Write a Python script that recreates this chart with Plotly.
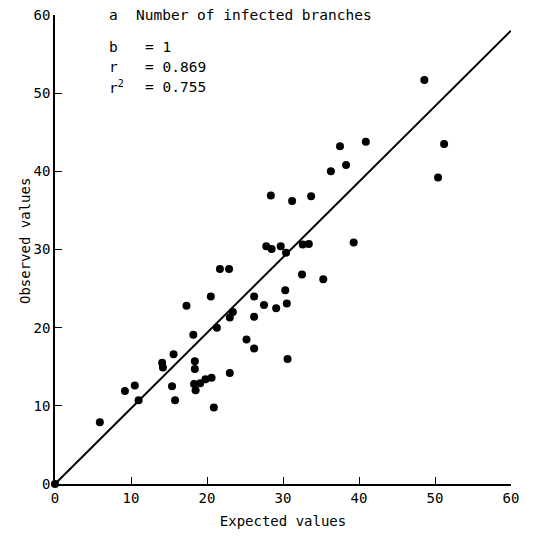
import plotly.graph_objects as go

expected = [0, 5.9, 9.2, 10.5, 11.0, 14.1, 14.2, 15.6, 15.4, 15.8,
            17.3, 18.2, 18.4, 18.4, 18.3, 18.5, 19.1, 19.8, 20.6, 20.9,
            20.5, 21.3, 21.7, 22.9, 23.0, 23.4, 23.0, 25.2, 26.2, 26.2,
            26.2, 27.5, 29.1, 27.8, 28.5, 29.7, 30.4, 32.6, 33.4, 28.4,
            31.2, 33.7, 30.3, 30.5, 30.6, 32.5, 35.3, 36.3, 38.3, 37.5,
            40.9, 39.3, 48.6, 51.2, 50.4]
observed = [0, 7.9, 11.9, 12.6, 10.7, 15.5, 14.9, 16.6, 12.5, 10.7,
            22.8, 19.1, 15.7, 14.7, 12.8, 12.0, 12.9, 13.4, 13.6, 9.8,
            24.0, 20.0, 27.5, 27.5, 21.3, 22.0, 14.2, 18.5, 17.35, 24.0,
            21.4, 22.9, 22.5, 30.4, 30.05, 30.4, 29.6, 30.65, 30.7, 36.9,
            36.2, 36.8, 24.8, 23.1, 16.0, 26.8, 26.2, 40.0, 40.8, 43.2,
            43.8, 30.9, 51.7, 43.5, 39.2]

line_x = [0, 60]
line_y = [0, 58]

tick_vals = [0, 10, 20, 30, 40, 50, 60]
tick_text = ["0", "10", "20", "30", "40", "50", "60"]

FONT = "DejaVu Sans Mono"

fig = go.Figure()
fig.add_trace(go.Scatter(x=line_x, y=line_y, mode="lines",
                         line=dict(color="black", width=2), cliponaxis=False,
                         showlegend=False, hoverinfo="skip"))
fig.add_trace(go.Scatter(x=expected, y=observed, mode="markers",
                         marker=dict(color="black", size=8), cliponaxis=False,
                         showlegend=False))

axis_common = dict(range=[0, 60], tickvals=tick_vals, ticktext=tick_text,
                   ticks="inside", ticklen=7, tickwidth=1.3, tickcolor="black",
                   showline=True, linecolor="black", linewidth=1.5,
                   showgrid=False, zeroline=False, automargin=False,
                   ticklabeloverflow="allow",
                   tickfont=dict(family=FONT, size=14, color="black"))

fig.update_xaxes(**axis_common,
                 title=dict(text="Expected values", standoff=12,
                            font=dict(family=FONT, size=14, color="black")))
fig.update_yaxes(**axis_common)

fig.add_annotation(x=-0.0658, y=0.518, xref="paper", yref="paper",
                   text="Observed values", textangle=-90, showarrow=False,
                   xanchor="center", yanchor="middle",
                   font=dict(family=FONT, size=14, color="black"))

ann_font = dict(family=FONT, size=14.5, color="black")
anns = [
    (6.9, 60.0, "a"),
    (10.4, 60.0, "Number of infected branches"),
    (6.9, 55.9, "b"),
    (11.6, 55.9, "= 1"),
    (6.9, 53.3, "r"),
    (11.6, 53.3, "= 0.869"),
    (6.9, 50.8, "r<sup>2</sup>"),
    (11.6, 50.8, "= 0.755"),
]
for ax_, ay_, t in anns:
    fig.add_annotation(x=ax_, y=ay_, xref="x", yref="y", text=t, showarrow=False,
                       xanchor="left", yanchor="middle", font=ann_font)

fig.update_layout(width=546, height=536,
                  margin=dict(l=47, r=43, t=7, b=60),
                  plot_bgcolor="white", paper_bgcolor="white")

fig.write_html("out.html")
